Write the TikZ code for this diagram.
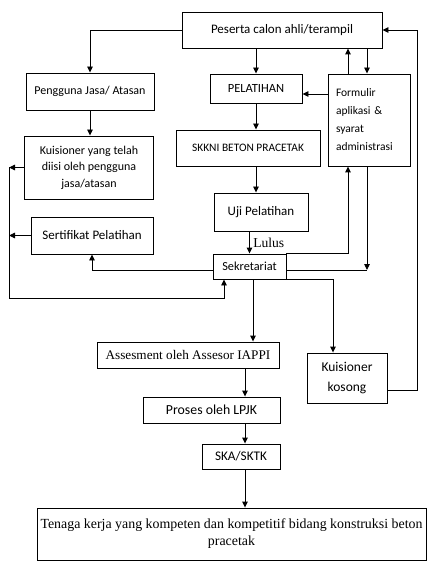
\documentclass[tikz,border=0pt]{standalone}
\usepackage{fontspec}
\setmainfont{Carlito}
\newfontfamily\tnr{Liberation Serif}
\usetikzlibrary{arrows.meta}

\begin{document}
\begin{tikzpicture}[x=1pt,y=-1pt,line width=0.9pt,
	box/.style={draw,inner sep=2pt,align=center,font=\fontsize{13}{15}\selectfont},
	arr/.style={-{Triangle[length=6pt,width=5.5pt]}}] % one pt per pixel of the scan

	\useasboundingbox (0,0) rectangle (428,561);

	\node[box,minimum width=200pt,minimum height=36pt] (peserta) at (282,30) {Peserta calon ahli/terampil};
	\node[box,minimum width=128pt,minimum height=37pt,font=\fontsize{12}{14}\selectfont] (pengguna) at (90,91.5) {Pengguna Jasa/ Atasan};
	\node[box,minimum width=92pt,minimum height=29pt,font=\fontsize{12.5}{14}\selectfont] (pelatihan) at (256,88.5) {PELATIHAN};
	\node[box,minimum width=82pt,minimum height=92pt,text width=66pt,align=left,font=\fontsize{11.5}{18}\selectfont] (formulir) at (369,120) {Formulir\\aplikasi \&\\syarat\\administrasi};
	\node[box,minimum width=144pt,minimum height=36pt,font=\fontsize{11.4}{13}\selectfont] (skkni) at (248,148) {SKKNI BETON PRACETAK};
	\node[box,minimum width=129pt,minimum height=63pt,font=\fontsize{12}{16.5}\selectfont] (kuisioner) at (89,167.5) {Kuisioner yang telah\\diisi oleh pengguna\\jasa/atasan};
	\node[box,minimum width=94pt,minimum height=38pt] (uji) at (261,212) {Uji Pelatihan};
	\node[box,minimum width=122pt,minimum height=37pt] (sertifikat) at (92,235.5) {Sertifikat Pelatihan};
	\node[box,minimum width=73pt,minimum height=25pt,font=\fontsize{12.3}{14}\selectfont] (sekretariat) at (249.5,266.5) {Sekretariat};
	\node[box,minimum width=182pt,minimum height=26pt,font=\tnr\fontsize{13.2}{15}\selectfont] (assesment) at (188,355) {Assesment oleh Assesor IAPPI};
	\node[box,minimum width=80pt,minimum height=50pt,font=\fontsize{13.5}{20}\selectfont] (kosong) at (347,378) {Kuisioner\\kosong};
	\node[box,minimum width=137pt,minimum height=26pt,font=\fontsize{13.8}{15}\selectfont] (proses) at (211.5,410) {Proses oleh LPJK};
	\node[box,minimum width=78pt,minimum height=25pt,font=\fontsize{13.2}{15}\selectfont] (ska) at (241,456.5) {SKA/SKTK};
	\node[box,minimum width=389pt,minimum height=52pt,font=\tnr\fontsize{13.9}{17}\selectfont] (tenaga) at (231.5,534) {Tenaga kerja yang kompeten dan kompetitif bidang konstruksi beton\\pracetak};

	\coordinate (kiri) at (9,298);
	\coordinate (kanan) at (417,30);
	\coordinate (tengah) at (245,0);
	\coordinate (balik) at (367,270);
	\coordinate (fp) at ([yshift=-5.5pt]pelatihan.east);

	% top part
	\draw[arr] (peserta.west) -| (pengguna.north);
	\draw[arr] (peserta.south -| pelatihan.north) -- (pelatihan.north);
	\draw[arr] ([xshift=-21pt]formulir.north) -- ([xshift=-21pt]formulir.north |- peserta.south);
	\draw[arr] ([xshift=-2pt]formulir.north |- peserta.south) -- ([xshift=-2pt]formulir.north);
	\draw[arr] (formulir.west |- fp) -- (fp);
	\draw[arr] (pengguna.south) -- (pengguna.south |- kuisioner.north);
	\draw[arr] (pelatihan.south) -- (pelatihan.south |- skkni.north);
	\draw[arr] (skkni.south -| pelatihan.south) -- (uji.north -| pelatihan.south);
	\draw[arr] (uji.south -| sekretariat.north) -- (sekretariat.north)
		node[midway,right,font=\tnr\fontsize{13.6}{15}\selectfont] (lulus) {Lulus};

	% around Sekretariat
	\draw[arr] (kuisioner.west) -- (kuisioner.west -| kiri);
	\draw[arr] (sertifikat.west) -- (sertifikat.west -| kiri);
	\draw[arr] (kuisioner.west -| kiri) -- (kiri) -| ([xshift=-25.5pt]sekretariat.south);
	\draw[arr] ([yshift=-3.5pt]sekretariat.west) -| (sertifikat.south);
	\draw[arr] (sekretariat.north east) -| ([xshift=-21pt]formulir.south);
	\draw[arr] ([xshift=-2pt]formulir.south) -- (balik);
	\draw ([yshift=-3.5pt]sekretariat.east) -- (balik);
	\draw[arr] (sekretariat.south east) -| ([xshift=-14pt]kosong.north);
	\draw[arr] ([xshift=3.5pt]sekretariat.south) -- ([xshift=3.5pt]sekretariat.south |- assesment.north);
	\draw[arr] ([yshift=-12pt]kosong.east) -| (kanan) -- (peserta.east);

	% bottom part
	\draw[arr] (assesment.south -| tengah) -- (proses.north -| tengah);
	\draw[arr] (proses.south -| tengah) -- (ska.north -| tengah);
	\draw[arr] (ska.south -| tengah) -- (tenaga.north -| tengah);

\end{tikzpicture}
\end{document}
